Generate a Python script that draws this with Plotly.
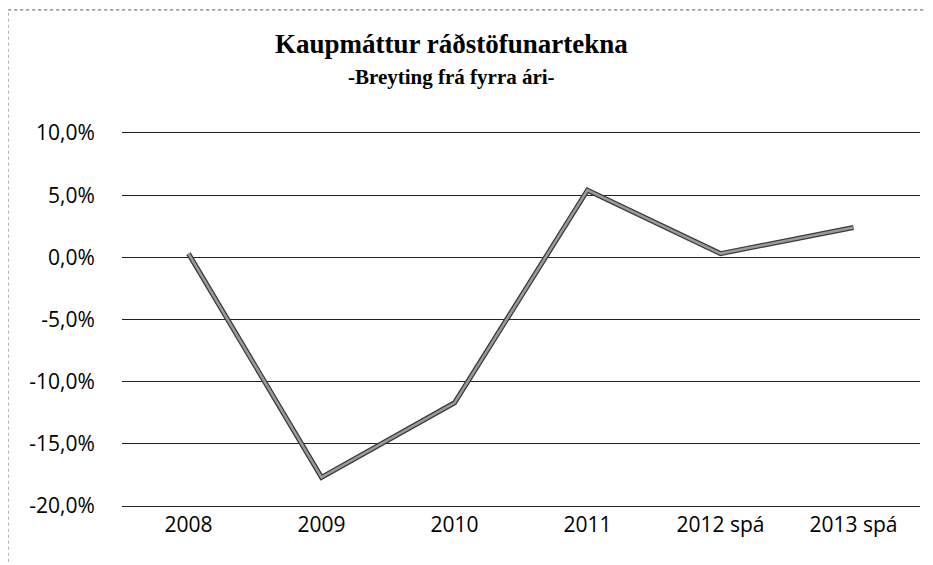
import plotly.graph_objects as go

categories = ["2008", "2009", "2010", "2011", "2012 spá", "2013 spá"]
values = [0.3, -17.7, -11.7, 5.4, 0.3, 2.4]
y_ticks = [10, 5, 0, -5, -10, -15, -20]
y_tick_labels = ["10,0%", "5,0%", "0,0%", "-5,0%", "-10,0%", "-15,0%", "-20,0%"]
title_line1 = "Kaupmáttur ráðstöfunartekna"
title_line2 = "-Breyting frá fyrra ári-"

fig = go.Figure()
fig.add_trace(go.Scatter(x=categories, y=values, mode="lines",
                         line=dict(color="#3a3a3a", width=5), hoverinfo="skip", showlegend=False))
fig.add_trace(go.Scatter(x=categories, y=values, mode="lines",
                         line=dict(color="#9a9a9a", width=2.5), showlegend=False))

tick_font = dict(family="Open Sans, Liberation Sans, sans-serif", size=21, color="black")
title_font = dict(family="Liberation Serif, Times New Roman, serif", color="black")

fig.update_layout(
    width=925, height=557,
    margin=dict(l=114, r=13, t=125, b=59),
    paper_bgcolor="white", plot_bgcolor="white",
    xaxis=dict(
        type="category", range=[-0.5, 5.5], showgrid=False,
        showline=True, mirror=True, linecolor="#222222", linewidth=1, zeroline=False,
        tickfont=tick_font, ticks="", automargin=False,
    ),
    yaxis=dict(
        range=[-20, 10], tickvals=y_ticks, ticktext=y_tick_labels,
        showgrid=True, gridcolor="#222222", gridwidth=1, zeroline=False, showline=False,
        tickfont=tick_font, ticks="outside", ticklen=22, tickcolor="white", automargin=False,
    ),
    annotations=[
        dict(text="<b>" + title_line1 + "</b>", xref="paper", yref="paper",
             x=0.4135, y=1.2386, xanchor="center", yanchor="middle", showarrow=False,
             font=dict(size=27, **title_font)),
        dict(text="<b>" + title_line2 + "</b>", xref="paper", yref="paper",
             x=0.4135, y=1.150, xanchor="center", yanchor="middle", showarrow=False,
             font=dict(size=21, **title_font)),
    ],
    shapes=[dict(type="rect", xref="paper", yref="paper",
                 x0=-0.1429, x1=1.05, y0=-0.25, y1=1.33,
                 line=dict(color="#555555", width=1, dash="dot"))],
)

fig.write_html("out.html")
